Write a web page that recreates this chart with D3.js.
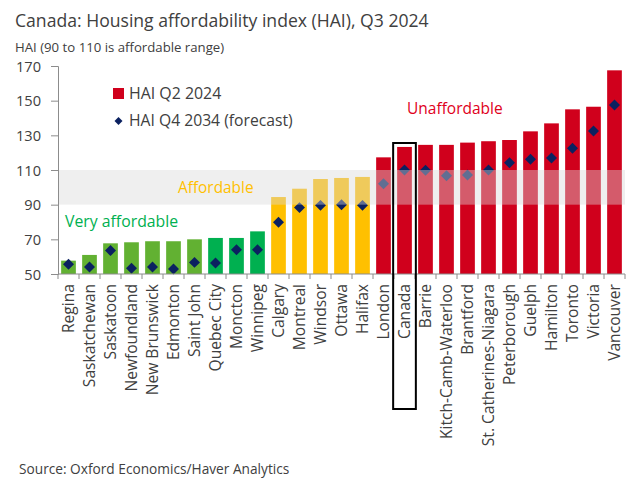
<!DOCTYPE html>
<html>
<head>
<meta charset="utf-8">
<script src="https://cdn.jsdelivr.net/npm/d3@7"></script>
<style>
html,body{margin:0;padding:0;background:#fff;}
svg{display:block;font-family:"Open Sans","Noto Sans",sans-serif;}
</style>
</head>
<body>
<svg id="chart" width="640" height="480"></svg>
<script>
const categories = ["Regina","Saskatchewan","Saskatoon","Newfoundland","New Brunswick","Edmonton","Saint John","Quebec City","Moncton","Winnipeg","Calgary","Montreal","Windsor","Ottawa","Halifax","London","Canada","Barrie","Kitch-Camb-Waterloo","Brantford","St. Catherines-Niagara","Peterborough","Guelph","Hamilton","Toronto","Victoria","Vancouver"];
const hai2024 = [57.7,61,67.7,68.3,68.9,68.9,70,70.8,70.8,74.6,94.4,99.2,104.8,105.4,106,117.3,123.3,124.5,124.5,125.8,126.6,127.3,132.3,136.9,145,146.5,167.5];
const hai2034 = [55.6,54,63.5,53.3,54,52.9,56.7,56.3,64,64,79.8,88.3,89.6,90,89.6,102.1,110,109.8,106.7,107.1,110,114.2,116.2,116.9,122.5,132.5,147.5];
const groups = ["vlight","vlight","vlight","vlight","vlight","vlight","vlight","vgreen","vgreen","vgreen","afford","afford","afford","afford","afford","unaff","unaff","unaff","unaff","unaff","unaff","unaff","unaff","unaff","unaff","unaff","unaff"];
const yTicks = [50,70,90,110,130,150,170];
const affordableRange = [90,110];
const highlight = "Canada";
const legendLabels = ["HAI Q2 2024","HAI Q4 2034 (forecast)"];

const colors = {vlight:"#62B132", vgreen:"#00B050", afford:"#FFC000", unaff:"#D0001C"};
const textColor = "#404040";
const axisColor = "#8c8c8c";

const svg = d3.select("#chart");
const x = d3.scaleBand().domain(categories).range([58,625]).paddingInner(0.3).paddingOuter(0.15);
const y = d3.scaleLinear().domain([50,170]).range([274,66]);

// title
svg.append("text").attr("x",15).attr("y",27).attr("font-size",17.6).attr("fill",textColor).text("Canada: Housing affordability index (HAI), Q3 2024");
svg.append("text").attr("x",15).attr("y",52).attr("font-size",13.2).attr("fill",textColor).text("HAI (90 to 110 is affordable range)");

// bars
svg.append("g").selectAll("rect").data(categories).join("rect")
  .attr("x",d=>x(d)).attr("width",x.bandwidth())
  .attr("y",(d,i)=>y(hai2024[i])).attr("height",(d,i)=>y(50)-y(hai2024[i]))
  .attr("fill",(d,i)=>colors[groups[i]]);

// diamonds (rotated squares)
const sym = d3.symbol().type(d3.symbolSquare).size(60);
svg.append("g").selectAll("path").data(categories).join("path")
  .attr("d",sym)
  .attr("transform",(d,i)=>`translate(${x(d)+x.bandwidth()/2},${y(hai2034[i])}) rotate(45)`)
  .attr("fill","#0B2160");

// affordable band on top
svg.append("rect").attr("x",58).attr("width",625-58)
  .attr("y",y(affordableRange[1])).attr("height",y(affordableRange[0])-y(affordableRange[1]))
  .attr("fill","#d9d9d9").attr("opacity",0.42);

// axes
const yAxis = d3.axisLeft(y).tickValues(yTicks).tickSize(7).tickPadding(10);
const gy = svg.append("g").attr("transform","translate(58,0)").call(yAxis);
gy.select(".domain").attr("stroke",axisColor);
gy.selectAll(".tick line").attr("stroke",axisColor);
gy.selectAll(".tick text").attr("font-size",14.6).attr("fill",textColor).attr("font-family","'Open Sans',sans-serif").attr("dy","0.35em");

const xAxis = d3.axisBottom(x).tickSize(0).tickPadding(0);
const gx = svg.append("g").attr("transform","translate(0,274)").call(xAxis);
gx.select(".domain").attr("stroke",axisColor).attr("d","M58,0H625");
gx.selectAll(".tick text").attr("font-size",15.6).attr("fill",textColor).attr("font-family","'Open Sans',sans-serif")
  .attr("text-anchor","end").attr("transform","rotate(-90)").attr("x",-10).attr("y",0).attr("dy","0.35em");
// boundary ticks
const bounds = d3.range(categories.length+1).map(i=>58+i*(625-58)/categories.length);
gx.append("g").selectAll("line").data(bounds).join("line")
  .attr("x1",d=>d).attr("x2",d=>d).attr("y1",0).attr("y2",5).attr("stroke",axisColor);

// highlight box
const cx = x(highlight);
svg.append("rect").attr("x",cx-4).attr("width",x.bandwidth()+8).attr("y",143).attr("height",409-143)
  .attr("fill","none").attr("stroke","#000").attr("stroke-width",2);

// legend
svg.append("rect").attr("x",113).attr("y",88).attr("width",11).attr("height",11).attr("fill",colors.unaff);
svg.append("text").attr("x",129).attr("y",99).attr("font-size",15.9).attr("fill",textColor).text(legendLabels[0]);
svg.append("path").attr("d",d3.symbol().type(d3.symbolSquare).size(32)).attr("transform","translate(118.5,121) rotate(45)").attr("fill","#0B2160");
svg.append("text").attr("x",129).attr("y",126).attr("font-size",15.7).attr("fill",textColor).text(legendLabels[1]);

// annotations
svg.append("text").attr("x",65).attr("y",227).attr("font-size",15.8).attr("fill","#00B050").text("Very affordable");
svg.append("text").attr("x",178).attr("y",193).attr("font-size",15.4).attr("fill","#FFC000").text("Affordable");
svg.append("text").attr("x",407).attr("y",114).attr("font-size",15.5).attr("fill","#E0001B").text("Unaffordable");

// source
svg.append("text").attr("x",19).attr("y",474).attr("font-size",13.7).attr("fill",textColor).text("Source: Oxford Economics/Haver Analytics");
</script>
</body>
</html>
